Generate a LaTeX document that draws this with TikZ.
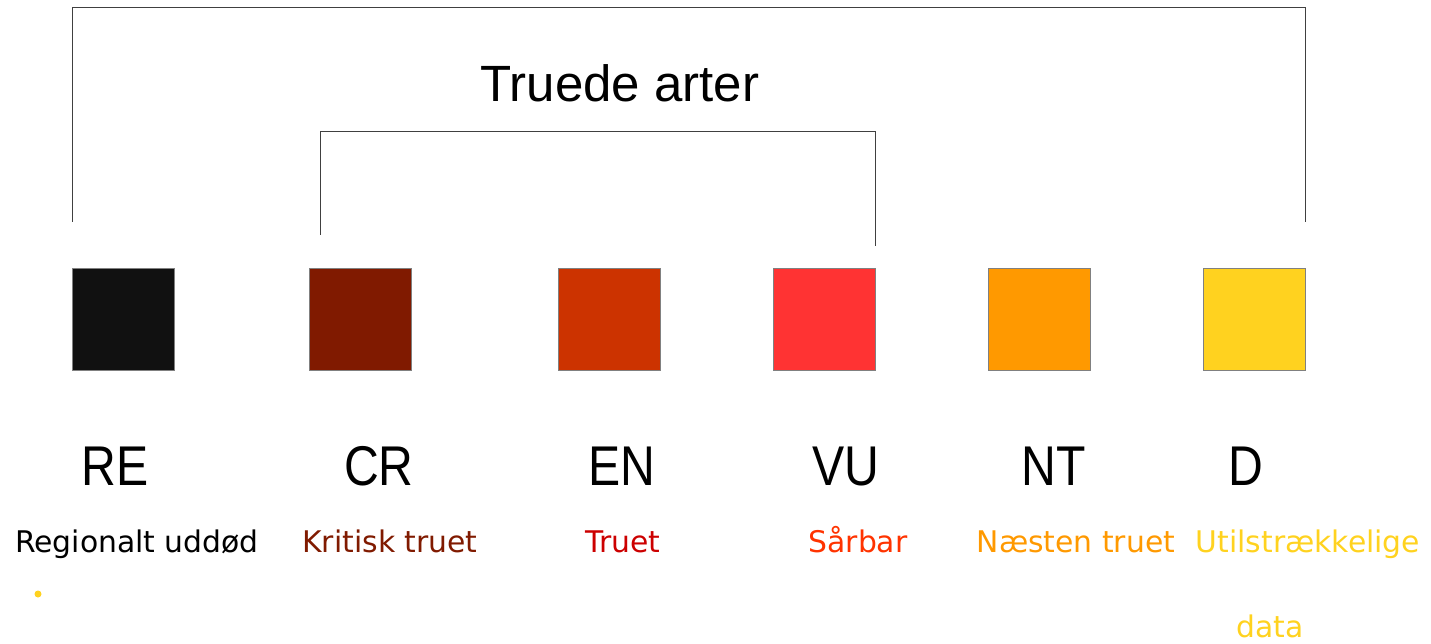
\documentclass[tikz,border=0pt]{standalone}
\usepackage{fontspec}
\setmainfont{Liberation Sans}
\newfontfamily\dvs{DejaVu Sans}
\newfontfamily\codefont[FakeStretch=0.86]{Liberation Sans}
\definecolor{cRE}{HTML}{111111}
\definecolor{cCR}{HTML}{801A00}
\definecolor{cEN}{HTML}{CC3300}
\definecolor{cVU}{HTML}{FF3333}
\definecolor{cNT}{HTML}{FF9900}
\definecolor{cD}{HTML}{FFD21F}
\definecolor{tEN}{HTML}{CC0000}
\definecolor{tVU}{HTML}{FF3300}
\definecolor{bord}{HTML}{808080}
\begin{document}
\begin{tikzpicture}[x=1pt,y=-1pt,
  sq/.style={draw=bord,line width=1pt,minimum width=102pt,minimum height=102pt,inner sep=0pt,anchor=north west},
  code/.style={font=\codefont\fontsize{56}{58}\selectfont,inner sep=0pt,anchor=base},
  sub/.style={font=\dvs\fontsize{29.8}{31}\selectfont,inner sep=0pt,anchor=base},
  brk/.style={draw=black!75,line width=1pt}]
\useasboundingbox (0,0) rectangle (1431,644);
\node[sq,fill=cRE] (re) at (72,268) {};
\node[sq,fill=cCR] (cr) at (309,268) {};
\node[sq,fill=cEN] (en) at (558,268) {};
\node[sq,fill=cVU] (vu) at (773,268) {};
\node[sq,fill=cNT] (nt) at (988,268) {};
\node[sq,fill=cD] (d) at (1203,268) {};
\coordinate (o1) at (72,222);
\coordinate (o2) at (1305,222);
\coordinate (i1) at (320,235);
\coordinate (i2) at (875,246);
\draw[brk] (o1) -- (72,8) -- (1305,8) -- (o2);
\draw[brk] (i1) -- (320,132) -- (875,132) -- (i2);
\node[font=\fontsize{51}{53}\selectfont,inner sep=0pt,anchor=base] (title) at (620,102) {Truede arter};
\node[code] (tre) at (115,485) {RE};
\node[code] (tcr) at (379,485) {CR};
\node[code] (ten) at (622,485) {EN};
\node[code] (tvu) at (846,485) {VU};
\node[code] (tnt) at (1054,485) {NT};
\node[code] (td) at (1246,485) {D};
\node[sub,text=black] (lre) at (137,552) {Regionalt uddød};
\node[sub,text=cCR] (lcr) at (390,552) {Kritisk truet};
\node[sub,text=tEN] (len) at (623,552) {Truet};
\node[sub,text=tVU] (lvu) at (858,552) {Sårbar};
\node[sub,text=cNT] (lnt) at (1076,552) {Næsten truet};
\node[sub,text=cD] (ld) at (1308,552) {Utilstrækkelige};
\node[sub,text=cD] (ld2) at (1270,637) {data};
\fill[cD] (38,594) circle (3.5pt);
\end{tikzpicture}
\end{document}
